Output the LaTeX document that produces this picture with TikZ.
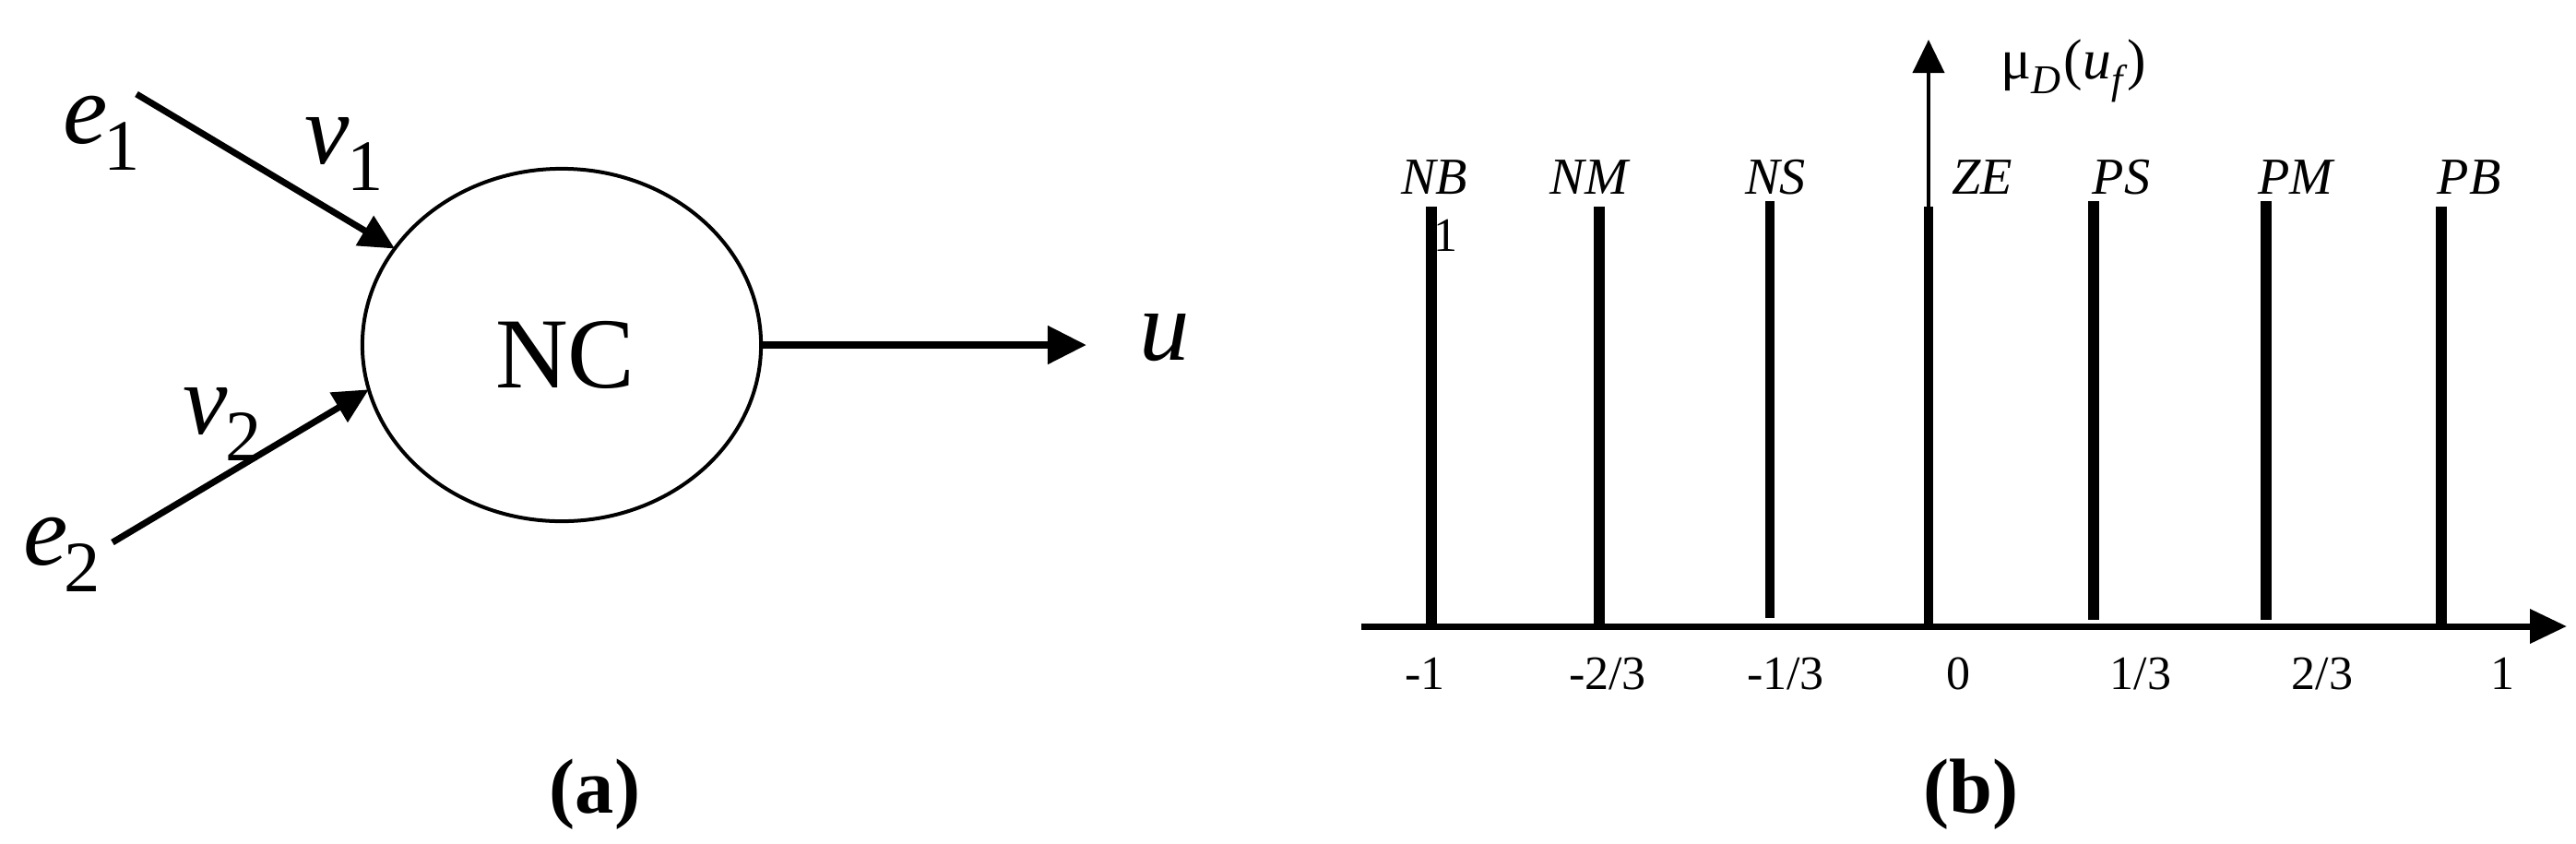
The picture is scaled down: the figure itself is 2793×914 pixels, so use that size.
\documentclass[tikz,border=0pt]{standalone}
\usepackage{fontspec}
\setmainfont{Liberation Serif}
\usepackage{graphicx}
\usetikzlibrary{arrows.meta,shapes.geometric}
\newcommand\lowsub[1]{\raisebox{-0.27em}{\scalebox{0.72}{#1}}}
\begin{document}
\begin{tikzpicture}[x=0.01cm,y=-0.01cm,
  big/.style={font=\fontsize{31}{36}\selectfont, inner sep=0, outer sep=0, anchor=base west},
  lab/.style={font=\fontsize{16}{19}\selectfont\itshape, inner sep=0, anchor=base},
  ticklab/.style={font=\fontsize{14.8}{18}\selectfont, inner sep=0, anchor=base},
  captext/.style={font=\fontsize{24}{28}\selectfont\bfseries, inner sep=0, anchor=base},
  inarrow/.style={line width=0.07cm, -{Triangle[length=0.38cm,width=0.36cm]}},
  outarrow/.style={line width=0.08cm, -{Triangle[length=0.42cm,width=0.40cm]}},
  bar/.style={line width=0.12cm},
]
\useasboundingbox (0,0) rectangle (2793,914);

% ---------- panel (a) ----------
\node[ellipse, draw, line width=0.04cm, minimum width=4.32cm, minimum height=3.82cm,
      inner sep=0, outer sep=0] (nc) at (609,374) {};
\node[big] (nct) at (537,420) {NC};
\node[big] (e1) at (68,155) {\textit{e}\kern-0.04em\lowsub{1}};
\node[big] (v1) at (330,177) {\textit{v}\kern-0.02em\lowsub{1}};
\node[big] (v2) at (198,470) {\textit{v}\kern-0.02em\lowsub{2}};
\node[big] (e2) at (25,612) {\textit{e}\kern-0.04em\lowsub{2}};
\node[big] (u) at (1235,390) {\textit{u}};

\coordinate (e1s) at (148,102);
\coordinate (e2s) at (122,588);
\draw[inarrow] (e1s) -- (nc.150);
\draw[inarrow] (e2s) -- (nc.193);
\draw[outarrow, shorten >=0.57cm] (nc.east) -- (u.west |- nc.east);

\node[captext] (capa) at (645,881) {(a)};

% ---------- panel (b) ----------
\node[ticklab] (one) at (1567,272) {1};

\coordinate (xo) at (1476,679);
\coordinate (xe) at (2783,679);
\coordinate (yo) at (2091,679);
\coordinate (ye) at (2091,43);

\draw[bar] (1552,224) -- (1552,679);
\draw[bar] (1734,224) -- (1734,679);
\draw[line width=0.10cm] (1919,218) -- (1919,670);
\draw[line width=0.10cm] (2091,224) -- (2091,679);
\draw[bar] (2270,218) -- (2270,672);
\draw[bar] (2457,218) -- (2457,672);
\draw[bar] (2647,224) -- (2647,679);

\draw[line width=0.07cm, -{Triangle[length=0.40cm,width=0.36cm]}] (xo) -- (xe);
\draw[line width=0.04cm, -{Triangle[length=0.36cm,width=0.34cm]}] (yo) -- (ye);

\node[anchor=base west, inner sep=0, font=\fontsize{17.5}{20}\selectfont] (mu) at (2169,85)
  {μ\lowsub{\textit{D}}\kern0.05em(\textit{u}\lowsub{\textit{f}})};

\node[lab] (nb) at (1555,210) {NB};
\node[lab] (nm) at (1723,210) {NM};
\node[lab] (ns) at (1925,210) {NS};
\node[lab] (ze) at (2149,210) {ZE};
\node[lab] (ps) at (2300,210) {PS};
\node[lab] (pm) at (2489,210) {PM};
\node[lab] (pb) at (2677,210) {PB};

\node[ticklab] (t1) at (1545,747) {-1};
\node[ticklab] (t2) at (1743,747) {-2/3};
\node[ticklab] (t3) at (1936,747) {-1/3};
\node[ticklab] (t4) at (2123,747) {0};
\node[ticklab] (t5) at (2321,747) {1/3};
\node[ticklab] (t6) at (2518,747) {2/3};
\node[ticklab] (t7) at (2713,747) {1};

\node[captext] (capb) at (2137,881) {(b)};
\end{tikzpicture}
\end{document}
